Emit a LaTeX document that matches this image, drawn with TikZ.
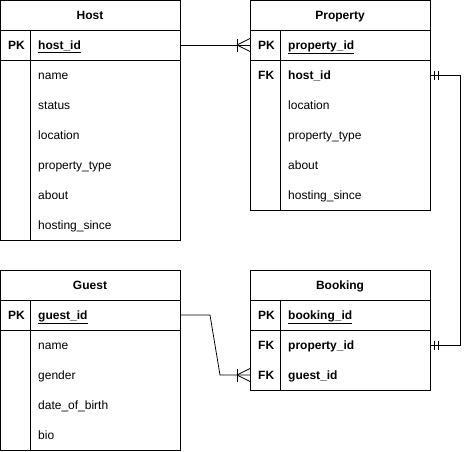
\documentclass[tikz,border=0pt]{standalone}
\usepackage{fontspec}
\setmainfont{Liberation Sans}
\begin{document}
\begin{tikzpicture}[x=1pt,y=-1pt,
  box/.style={draw=black,line width=0.8pt},
  txt/.style={font=\fontsize{12}{14}\selectfont,anchor=base west,inner sep=0pt,yshift=-4.3pt},
  ttl/.style={font=\fontsize{12}{14}\selectfont\bfseries,anchor=base,inner sep=0pt,yshift=-4.3pt},
  key/.style={font=\fontsize{12}{14}\selectfont\bfseries,anchor=base west,inner sep=0pt,yshift=-4.3pt},
  conn/.style={draw=black,line width=0.8pt}]
\useasboundingbox (0,0) rectangle (470,451);
% ---------- Host ----------
\draw[box] (0.5,0.5) rectangle (180,240);
\draw[box] (0.5,30) -- (180,30);
\draw[box] (0.5,60) -- (180,60);
\draw[box] (30,30) -- (30,240);
\node[ttl] (hostT) at (90,15) {Host};
\node[key] (hostPK) at (8,45) {PK};
\node[key] (hostid) at (38,45) {\underline{host\_id}};
\node[txt] (hname) at (38,75) {name};
\node[txt] (hstatus) at (38,105) {status};
\node[txt] (hloc) at (38,135) {location};
\node[txt] (hptype) at (38,165) {property\_type};
\node[txt] (habout) at (38,195) {about};
\node[txt] (hsince) at (38,225) {hosting\_since};
\coordinate (hostR) at (180,45);
% ---------- Property ----------
\draw[box] (250,0.5) rectangle (430,210);
\draw[box] (250,30) -- (430,30);
\draw[box] (250,60) -- (430,60);
\draw[box] (280,30) -- (280,210);
\node[ttl] (propT) at (340,15) {Property};
\node[key] (propPK) at (258,45) {PK};
\node[key] (propid) at (288,45) {\underline{property\_id}};
\node[key] (propFK) at (258,75) {FK};
\node[key] (prophost) at (288,75) {host\_id};
\node[txt] (ploc) at (288,105) {location};
\node[txt] (pptype) at (288,135) {property\_type};
\node[txt] (pabout) at (288,165) {about};
\node[txt] (psince) at (288,195) {hosting\_since};
\coordinate (propL) at (250,45);
\coordinate (propR) at (430,75);
% ---------- Guest ----------
\draw[box] (0.5,270) rectangle (180,450);
\draw[box] (0.5,300) -- (180,300);
\draw[box] (0.5,330) -- (180,330);
\draw[box] (30,300) -- (30,450);
\node[ttl] (guestT) at (90,285) {Guest};
\node[key] (guestPK) at (8,315) {PK};
\node[key] (guestid) at (38,315) {\underline{guest\_id}};
\node[txt] (gname) at (38,345) {name};
\node[txt] (ggender) at (38,375) {gender};
\node[txt] (gdob) at (38,405) {date\_of\_birth};
\node[txt] (gbio) at (38,435) {bio};
\coordinate (guestR) at (180,315);
% ---------- Booking ----------
\draw[box] (250,270) rectangle (430,390);
\draw[box] (250,300) -- (430,300);
\draw[box] (250,330) -- (430,330);
\draw[box] (280,300) -- (280,390);
\node[ttl] (bookT) at (340,285) {Booking};
\node[key] (bookPK) at (258,315) {PK};
\node[key] (bookid) at (288,315) {\underline{booking\_id}};
\node[key] (bookFK1) at (258,345) {FK};
\node[key] (bookprop) at (288,345) {property\_id};
\node[key] (bookFK2) at (258,375) {FK};
\node[key] (bookguest) at (288,375) {guest\_id};
\coordinate (bookR) at (430,345);
\coordinate (bookL) at (250,375);
% ---------- connectors ----------
% Host -> Property (one-to-many mandatory)
\draw[conn] (hostR) -- (propL);
\draw[conn] ([xshift=-13]propL) ++(0,-6.5) -- ++(0,13);
\draw[conn] ([xshift=-13]propL) -- ([yshift=-6.5]propL);
\draw[conn] ([xshift=-13]propL) -- ([yshift=6.5]propL);
% Property.host_id <-> Booking.property_id
\coordinate (c1) at (460,75);
\coordinate (c2) at (460,345);
\draw[conn] (propR) -- (c1) -- (c2) -- (bookR);
\draw[conn] ([xshift=4.5]propR) ++(0,-4.5) -- ++(0,9);
\draw[conn] ([xshift=8]propR) ++(0,-4.5) -- ++(0,9);
\draw[conn] ([xshift=4.5]bookR) ++(0,-4.5) -- ++(0,9);
\draw[conn] ([xshift=8]bookR) ++(0,-4.5) -- ++(0,9);
% Guest -> Booking
\coordinate (g1) at (210,315);
\coordinate (g2) at (220,375);
\draw[conn] (guestR) -- (g1) -- (g2) -- (bookL);
\draw[conn] ([xshift=-13]bookL) ++(0,-6.5) -- ++(0,13);
\draw[conn] ([xshift=-13]bookL) -- ([yshift=-6.5]bookL);
\draw[conn] ([xshift=-13]bookL) -- ([yshift=6.5]bookL);
\end{tikzpicture}
\end{document}
